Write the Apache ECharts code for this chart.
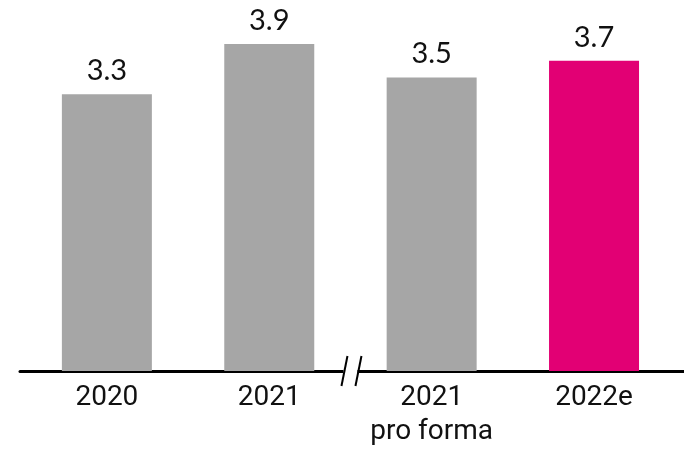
<!DOCTYPE html>
<html><head><meta charset="utf-8">
<script src="https://cdn.jsdelivr.net/npm/echarts@6/dist/echarts.min.js"></script>
<style>html,body{margin:0;padding:0;background:#fff}#c{width:684px;height:449px}</style>
</head><body><div id="c"></div>
<script>
var categories = ['2020', '2021', '2021\npro forma', '2022e'];
var values = [3.3, 3.9, 3.5, 3.7];
var barColors = ['#a6a6a6', '#a6a6a6', '#a6a6a6', '#e20074'];
var labelPositions = [0, 1, 2, 3];
var breakAt = 1.5;

var chart = echarts.init(document.getElementById('c'));
var data = values.map(function (v, i) {
  return { value: [labelPositions[i], v], itemStyle: { color: barColors[i] } };
});
chart.setOption({
  animation: false,
  grid: { left: 20, right: 0, top: 2, bottom: 78 },
  xAxis: {
    type: 'value', min: -0.535, max: 3.554,
    splitLine: { show: false },
    axisLine: { show: true, onZero: false, lineStyle: { color: '#000', width: 3 } },
    axisTick: { show: false },
    axisLabel: {
      customValues: labelPositions,
      formatter: function (v) { var i = labelPositions.indexOf(Math.round(v)); return i >= 0 ? categories[i] : ''; },
      color: '#111', fontFamily: 'Roboto', fontSize: 28, lineHeight: 34, margin: 10
    }
  },
  yAxis: { type: 'value', min: 0, max: 4.4, show: false, splitLine: { show: false } },
  series: [{
    type: 'bar', barWidth: 90, data: data,
    label: { show: true, position: 'top', distance: 9, color: '#111', fontFamily: 'Lato', fontSize: 29,
      formatter: function (p) { return p.value[1].toFixed(1); } }
  }]
});
var p = chart.convertToPixel({ xAxisIndex: 0, yAxisIndex: 0 }, [breakAt, 0]);
chart.setOption({ graphic: [
  { type: 'rect', shape: { x: p[0] - 7, y: p[1] - 3, width: 14, height: 6 }, style: { fill: '#fff' }, z: 100 },
  { type: 'line', shape: { x1: p[0] - 9, y1: p[1] + 15, x2: p[0] - 3, y2: p[1] - 15 }, style: { stroke: '#000', lineWidth: 2 }, z: 101 },
  { type: 'line', shape: { x1: p[0] + 5, y1: p[1] + 15, x2: p[0] + 11, y2: p[1] - 15 }, style: { stroke: '#000', lineWidth: 2 }, z: 101 }
]});
</script></body></html>
